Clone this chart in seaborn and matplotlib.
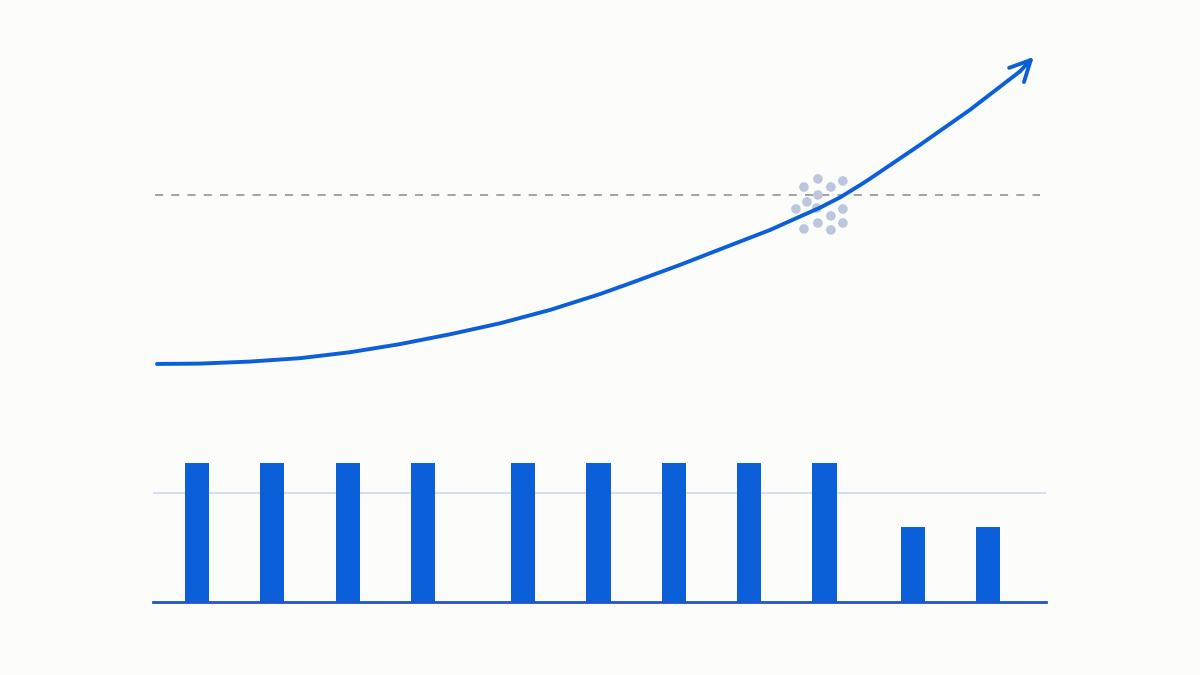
import matplotlib
matplotlib.use('Agg')
import matplotlib.pyplot as plt
import pandas as pd
import seaborn as sns

# Growth curve (top panel)
curve_x = [0.0, 0.49, 1.06, 1.63, 2.20, 2.77, 3.35, 3.92, 4.49, 5.06, 5.40, 5.97,
           6.66, 7.00, 7.34, 7.57, 7.80, 8.03, 8.14, 8.71, 9.28, 9.85]
curve_y = [0.0, 0.002, 0.014, 0.034, 0.069, 0.117, 0.176, 0.241, 0.320, 0.414, 0.477, 0.586,
           0.725, 0.793, 0.872, 0.925, 0.986, 1.059, 1.096, 1.296, 1.503, 1.730]
arrow_tip = (10.01, 1.817)
threshold = 1.0

# Dotted cluster around the crossing point
dot_x = [7.386, 7.546, 7.694, 7.831, 7.546, 7.420, 7.295, 7.694, 7.831, 7.546, 7.386, 7.694,
         7.831, 7.534]
dot_y = [1.047, 1.095, 1.047, 1.083, 1.000, 0.959, 0.917, 0.876, 0.917, 0.834, 0.799, 0.793,
         0.834, 0.923]

# Bars (bottom panel)
bar_x = [0, 1, 2, 3, 4.33, 5.33, 6.33, 7.33, 8.33, 9.5, 10.5]
bar_h = [1.0, 1.0, 1.0, 1.0, 1.0, 1.0, 1.0, 1.0, 1.0, 0.54, 0.54]
bar_ref = 0.784

blue = '#0b5fd9'
bg = '#fcfcfb'

sns.set_theme(style='white')
fig = plt.figure(figsize=(12, 6.75), dpi=100, facecolor=bg)

# top panel
ax = fig.add_axes([153 / 1200, 1 - 380 / 675, 893 / 1200, 340 / 675])
ax.set_facecolor(bg)
ax.axhline(threshold, xmin=0.002, xmax=0.993, color='#9c9c9c', lw=1.3,
           linestyle=(0, (4.5, 4.5)), zorder=1)
sns.scatterplot(x=dot_x, y=dot_y, ax=ax, s=48, color='#bcc6dc', edgecolor='none', zorder=2)
curve = pd.DataFrame({'x': curve_x, 'y': curve_y})
sns.lineplot(data=curve, x='x', y='y', ax=ax, color=blue, lw=2.8, sort=False, zorder=3)
ax.annotate('', xy=arrow_tip, xytext=(curve_x[-1], curve_y[-1]),
            arrowprops=dict(arrowstyle='->,head_length=0.4,head_width=0.2', color=blue,
                            lw=2.8, mutation_scale=37, shrinkA=0, shrinkB=0,
                            capstyle='round', joinstyle='round'), zorder=4)
ax.set_xlim(-0.046, 10.15)
ax.set_ylim(-0.095, 1.917)
ax.axis('off')

# bottom panel
bx = fig.add_axes([153 / 1200, 1 - 602 / 675, 893 / 1200, 162 / 675])
bx.set_facecolor(bg)
bx.axhline(bar_ref, color='#c8d4ef', lw=1.1, zorder=0)
bars = pd.DataFrame({'x': bar_x, 'h': bar_h})
sns.barplot(data=bars, x='x', y='h', ax=bx, native_scale=True, width=0.32,
            color=blue, saturation=1, linewidth=0, zorder=2)
bx.set_xlim(-0.584, 11.27)
bx.set_ylim(0, 1.165)
for side in ['top', 'right', 'left']:
    bx.spines[side].set_visible(False)
bx.spines['bottom'].set_color('#1f55c8')
bx.spines['bottom'].set_linewidth(2)
bx.spines['bottom'].set_zorder(3)
bx.set_xticks([])
bx.set_yticks([])
bx.set_xlabel('')
bx.set_ylabel('')

fig.savefig('out.png', dpi=100, facecolor=bg)
